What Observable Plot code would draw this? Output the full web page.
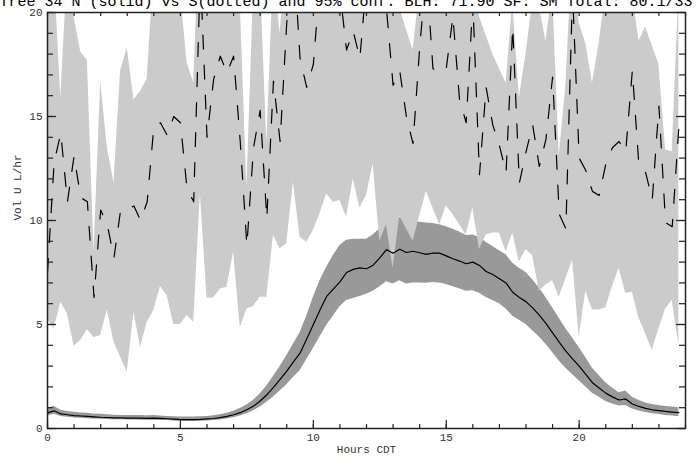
<!DOCTYPE html>
<html><head><meta charset="utf-8">
<script src="https://cdn.jsdelivr.net/npm/d3@7"></script>
<script src="https://cdn.jsdelivr.net/npm/@observablehq/plot@0.6"></script>
<style>html,body{margin:0;padding:0;background:#fff;}</style>
</head><body><div id="chart"></div>
<script>
const titleText = "Tree 34 N (solid) vs S(dotted) and 95% conf. BLH: 71.90 SF: SM Total: 80.1/33";
const xLabel = "Hours CDT";
const yLabel = "Vol U L/hr";
const xMajor = [0,5,10,15,20];
const xMinor = [0,1,2,3,4,5,6,7,8,9,10,11,12,13,14,15,16,17,18,19,20,21,22,23,24];
const yMajor = [0,5,10,15,20];
const yMinor = [0,1,2,3,4,5,6,7,8,9,10,11,12,13,14,15,16,17,18,19,20];

const hours = [0,0.25,0.5,0.75,1,1.25,1.5,1.75,2,2.25,2.5,2.75,3,3.25,3.5,3.75,4,4.25,4.5,4.75,5,5.25,5.5,5.75,6,6.25,6.5,6.75,7,7.25,7.5,7.75,8,8.25,8.5,8.75,9,9.25,9.5,9.75,10,10.25,10.5,10.75,11,11.25,11.5,11.75,12,12.25,12.5,12.75,13,13.25,13.5,13.75,14,14.25,14.5,14.75,15,15.25,15.5,15.75,16,16.25,16.5,16.75,17,17.25,17.5,17.75,18,18.25,18.5,18.75,19,19.25,19.5,19.75,20,20.25,20.5,20.75,21,21.25,21.5,21.75,22,22.25,22.5,22.75,23,23.25,23.5,23.75];

// North (solid) mean and 95% band
const nMean = [0.75,0.85,0.7,0.66,0.62,0.6,0.58,0.56,
0.54,0.53,0.51,0.51,0.5,0.5,0.5,0.49,
0.5,0.49,0.47,0.45,0.43,0.43,0.43,0.44,
0.46,0.48,0.52,0.58,0.66,0.76,0.9,1.08,
1.32,1.62,1.98,2.36,2.76,3.2,3.62,4.3,
5.0,5.7,6.35,6.7,7.05,7.5,7.65,7.72,
7.68,7.85,8.2,8.6,8.43,8.62,8.46,8.52,
8.45,8.37,8.43,8.43,8.3,8.16,8.05,7.92,
8.0,7.84,7.55,7.4,7.2,7.0,6.55,6.3,
6.1,5.8,5.45,5.05,4.6,4.15,3.72,3.35,
3.0,2.6,2.2,1.95,1.7,1.52,1.37,1.42,
1.18,1.06,0.97,0.9,0.86,0.82,0.79,0.76];
const nHigh = [0.95,1.07,0.88,0.82,0.78,0.75,0.73,0.7,
0.68,0.66,0.64,0.63,0.62,0.62,0.62,0.61,
0.62,0.6,0.58,0.56,0.55,0.55,0.55,0.56,
0.58,0.61,0.66,0.73,0.83,0.96,1.13,1.36,
1.66,2.04,2.5,2.98,3.5,4.05,4.6,5.4,
6.3,7.1,7.75,8.3,8.8,9.05,9.1,9.1,
9.1,9.3,9.6,10.0,9.95,10.15,10.0,10.0,
9.92,9.88,9.85,9.8,9.7,9.58,9.45,9.28,
9.3,9.2,8.95,8.75,8.55,8.35,7.95,7.7,
7.5,7.15,6.75,6.3,5.8,5.3,4.8,4.35,
3.9,3.4,2.9,2.55,2.2,1.95,1.72,1.8,
1.5,1.35,1.23,1.15,1.1,1.06,1.03,1.0];
const nLow = [0.6,0.68,0.58,0.54,0.5,0.49,0.47,0.46,
0.44,0.43,0.42,0.42,0.41,0.41,0.4,0.4,
0.4,0.39,0.38,0.36,0.35,0.34,0.34,0.35,
0.36,0.38,0.41,0.46,0.52,0.6,0.71,0.85,
1.03,1.26,1.52,1.8,2.1,2.45,2.78,3.3,
3.85,4.4,4.95,5.4,5.85,6.15,6.25,6.35,
6.45,6.6,6.8,7.05,6.95,7.1,6.95,7.0,
7.0,6.98,7.02,7.0,6.92,6.82,6.72,6.6,
6.62,6.5,6.3,6.15,6.0,5.75,5.4,5.2,
5.0,4.7,4.4,4.05,3.65,3.25,2.9,2.6,
2.3,2.0,1.7,1.5,1.3,1.18,1.08,1.1,
0.94,0.84,0.77,0.71,0.67,0.63,0.6,0.57];

// South (dotted) mean and 95% band
const sMean = [7.5,12.8,14.2,10.9,13.1,11.1,10.9,6.3,
10.5,9.8,8.2,10.5,10.5,10.7,10.0,10.9,
14.5,14.7,14.1,15.0,14.7,11.5,10.9,22,
14.0,16.8,17.9,17.1,17.9,13.8,8.8,13.5,
15.3,10.1,16.7,13.8,19.5,23,17.8,16.4,
17.5,21.5,25,22,21,18.2,19.1,17.8,
21.5,23,24,20.2,16.5,17.2,15.0,13.7,
18.3,22,17.3,17.1,17.3,19.8,15.8,14.7,
20.5,12.2,16.4,14.6,13.6,12.3,19.3,11.8,
13.3,14.6,12.6,13.9,16.9,10.3,9.6,21,
13.0,12.4,11.4,11.2,12.7,13.5,13.8,13.3,
17.2,12.6,12.3,11.0,15.5,9.9,9.7,14.5];
const sLow = [5.27,4.79,6.07,5.51,3.96,4.23,4.76,4.36,
4.47,5.7,4.15,3.43,2.71,5.59,3.91,5.11,
5.67,6.83,6.39,5.0,5.0,5.43,5.11,11.3,
6.28,6.28,6.71,6.79,8.48,4.84,5.75,5.87,
6.31,6.31,9.28,8.64,8.88,11.84,9.2,8.96,
9.52,10.32,11.28,10.88,10.96,10.16,12.0,10.6,
11.2,12.7,9.0,9.8,7.7,10.2,9.6,9.0,
10.2,11.4,10.6,9.8,10.7,10.3,9.8,9.3,
10.6,8.6,9.3,9.4,9.4,8.5,9.4,8.0,
8.6,8.3,6.6,6.9,7.1,6.3,7.2,8.1,
4.4,6.6,5.7,5.7,5.8,6.8,7.7,6.5,
6.55,5.3,4.55,3.75,4.8,5.75,6.15,4.0];
const sHigh = [22,22,15.9,22,19.8,18.1,17.7,8.5,
16.7,13.5,11.8,17.2,18.3,15.8,16.2,16.8,
22,23,23,22,21,17.6,16.6,25,
23,24,24,23,22,20.5,11.6,21,
22,13.7,22,19.0,23,26,24,23,
24,25,27,25,24,23,24,23,
25,26,27,25,22,20.2,19.2,18.2,
21,24,23,22,23,24,22,22,
22,19.8,18.9,18.0,17.3,16.6,20.5,15.9,
18.0,20.5,20.3,18.6,21,13.1,16.5,23,
19.5,18.5,16.6,18.5,21,21,20.3,21,
21,18.6,19.3,18.4,17.5,13.4,13.3,21];

const data = hours.map((h, i) => ({h, nMean: nMean[i], nLow: nLow[i], nHigh: nHigh[i], sMean: sMean[i], sLow: sLow[i], sHigh: sHigh[i]}));

const W = 699, H = 464, mL = 47, mR = 14, mT = 12, mB = 36;
const fw = W - mL - mR, fh = H - mT - mB;
const FONT = "'Liberation Mono', 'DejaVu Sans Mono', monospace";
const axisCol = "#222";

const chart = Plot.plot({
  width: W, height: H,
  marginLeft: mL, marginRight: mR, marginTop: mT, marginBottom: mB,
  style: {fontFamily: FONT, background: "#fff", overflow: "hidden"},
  x: {domain: [0, 24], axis: null},
  y: {domain: [0, 20], axis: null},
  marks: [
    Plot.areaY(data, {x: "h", y1: "nLow", y2: "nHigh", fill: "#999999", clip: true}),
    Plot.areaY(data, {x: "h", y1: "sLow", y2: "sHigh", fill: "#cbcbcb", clip: true}),
    Plot.lineY(data, {x: "h", y: "sMean", stroke: "#000", strokeWidth: 1.2, strokeDasharray: "14,16", clip: true}),
    Plot.lineY(data, {x: "h", y: "nMean", stroke: "#000", strokeWidth: 1.2, clip: true}),
    Plot.frame({stroke: axisCol, strokeWidth: 1.5}),
    // bottom ticks (pointing up)
    Plot.ruleX(xMinor, {x: d => d, insetTop: fh - 4, stroke: axisCol, strokeWidth: 1.2}),
    Plot.ruleX(xMajor, {x: d => d, insetTop: fh - 8, stroke: axisCol, strokeWidth: 1.2}),
    // top ticks (pointing down)
    Plot.ruleX(xMinor, {x: d => d, insetBottom: fh - 4, stroke: axisCol, strokeWidth: 1.2}),
    // left ticks (pointing right)
    Plot.ruleY(yMinor, {y: d => d, insetRight: fw - 6, stroke: axisCol, strokeWidth: 1.2}),
    Plot.ruleY(yMajor, {y: d => d, insetRight: fw - 9, stroke: axisCol, strokeWidth: 1.2}),
    // right ticks (pointing left)
    Plot.ruleY(yMinor, {y: d => d, insetLeft: fw - 6, stroke: axisCol, strokeWidth: 1.2}),
    Plot.ruleY(yMajor, {y: d => d, insetLeft: fw - 9, stroke: axisCol, strokeWidth: 1.2}),
    // tick labels
    Plot.text(xMajor, {x: d => d, text: d => String(d), frameAnchor: "bottom", dy: 12, fontSize: 11, fontFamily: FONT, fill: "#333"}),
    Plot.text(yMajor, {y: d => d, text: d => String(d), frameAnchor: "left", dx: -5, textAnchor: "end", fontSize: 11, fontFamily: FONT, fill: "#333"}),
    // axis titles
    Plot.text([xLabel], {frameAnchor: "bottom", dy: 24, fontSize: 11, fontFamily: FONT, fill: "#333"}),
    Plot.text([yLabel], {frameAnchor: "left", dx: -30, rotate: -90, fontSize: 11, fontFamily: FONT, fill: "#333"}),
    // title (partly cut off at the top, as in the original)
    Plot.text([titleText], {frameAnchor: "top-left", dx: -48, dy: -7, textAnchor: "start", lineAnchor: "bottom", fontSize: 15, fontFamily: FONT, fill: "#000"})
  ]
});
document.getElementById("chart").appendChild(chart);
</script>
</body></html>
